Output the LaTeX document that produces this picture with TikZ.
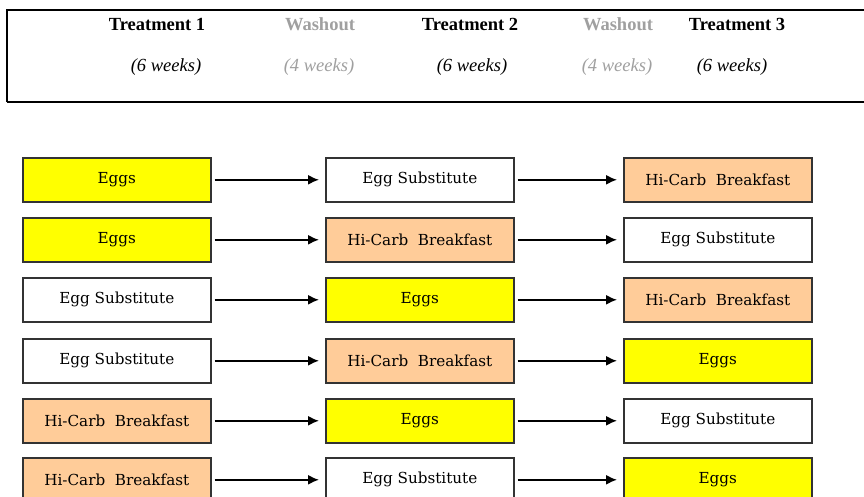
\documentclass[tikz,border=0pt]{standalone}
\usepackage{fontspec}
\setmainfont{Liberation Serif}
\newfontfamily\boxfont{DejaVu Serif}
\usepackage{tikz}
\usetikzlibrary{arrows.meta}
\usetikzlibrary{positioning}

\definecolor{eggyellow}{HTML}{FFFF00}
\definecolor{carbpeach}{HTML}{FFCC99}
\definecolor{washgray}{HTML}{A0A0A0}

\tikzset{
  arm/.style={rectangle, draw=black!80, line width=1.6pt, minimum height=44pt, minimum width=188pt, anchor=north west, inner sep=0pt, font=\boxfont\fontsize{15.2}{17}\selectfont},
  eggs/.style={arm, fill=eggyellow},
  subst/.style={arm, fill=white},
  hicarb/.style={arm, fill=carbpeach},
  period/.style={font=\fontsize{18.5}{20}\selectfont\bfseries},
  length/.style={font=\fontsize{18.5}{20}\selectfont\itshape},
  switch/.style={-{Latex[length=11pt,width=10pt]}, line width=1.6pt, shorten <=3pt, shorten >=6pt}
}

\begin{document}
\begin{tikzpicture}[x=1pt, y=-1pt]
\clip (0,0) rectangle (864,496);
\fill[white] (0,0) rectangle (864,496);

% header box
\draw[line width=1.4pt] (7,102) -- (7,10) -- (880,10);
\draw[line width=1.4pt] (7,102) -- (880,102);

\node[period] (t1) at (157,24) {Treatment 1};
\node[period, washgray] (w1) at (320,24) {Washout};
\node[period] (t2) at (470,24) {Treatment 2};
\node[period, washgray] (w2) at (618,24) {Washout};
\node[period] (t3) at (737,24) {Treatment 3};

\node[length] (l1) at (166,67) {(6 weeks)};
\node[length, washgray] (l2) at (319,67) {(4 weeks)};
\node[length] (l3) at (472,67) {(6 weeks)};
\node[length, washgray] (l4) at (617,67) {(4 weeks)};
\node[length] (l5) at (732,67) {(6 weeks)};

% sequences
\node[eggs] (a1) at (22,157) {Eggs};
\node[subst] (a2) at (325,157) {Egg Substitute};
\node[hicarb] (a3) at (623,157) {Hi-Carb\ \ Breakfast};

\node[eggs] (b1) at (22,217) {Eggs};
\node[hicarb] (b2) at (325,217) {Hi-Carb\ \ Breakfast};
\node[subst] (b3) at (623,217) {Egg Substitute};

\node[subst] (c1) at (22,277) {Egg Substitute};
\node[eggs] (c2) at (325,277) {Eggs};
\node[hicarb] (c3) at (623,277) {Hi-Carb\ \ Breakfast};

\node[subst] (d1) at (22,338) {Egg Substitute};
\node[hicarb] (d2) at (325,338) {Hi-Carb\ \ Breakfast};
\node[eggs] (d3) at (623,338) {Eggs};

\node[hicarb] (e1) at (22,398) {Hi-Carb\ \ Breakfast};
\node[eggs] (e2) at (325,398) {Eggs};
\node[subst] (e3) at (623,398) {Egg Substitute};

\node[hicarb] (f1) at (22,457) {Hi-Carb\ \ Breakfast};
\node[subst] (f2) at (325,457) {Egg Substitute};
\node[eggs] (f3) at (623,457) {Eggs};

\foreach \r in {a,b,c,d,e,f} {
  \draw[switch] (\r1.east) -- (\r2.west);
  \draw[switch] (\r2.east) -- (\r3.west);
}

\end{tikzpicture}
\end{document}
